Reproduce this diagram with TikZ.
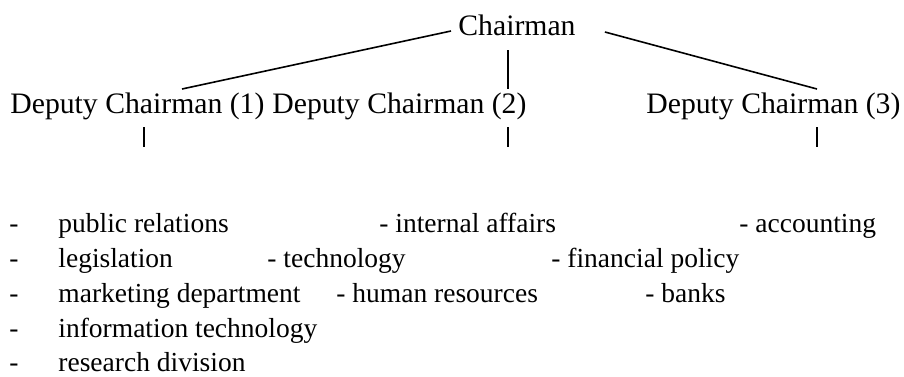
\documentclass[tikz,border=0pt]{standalone}
\usepackage{fontspec}
\setmainfont{Liberation Serif}
\usetikzlibrary{shapes,arrows}

\begin{document}
\begin{tikzpicture}[x=0.5pt, y=-0.5pt]
    % Define block styles
    \tikzstyle{head} = [inner sep=0pt, anchor=base west, font=\fontsize{14.85pt}{18pt}\selectfont]
    \tikzstyle{item} = [inner sep=0pt, anchor=base west, font=\fontsize{13.75pt}{16pt}\selectfont]
    \tikzstyle{line} = [draw, -, line width=0.8pt]

    \useasboundingbox (0,0) rectangle (904,376);

    % Nodes
    \node [head] (chairman) at (458,35) {Chairman};
    \node [head] (deputy 1) at (10,113) {Deputy Chairman (1)};
    \node [head] (deputy 2) at (272,113) {Deputy Chairman (2)};
    \node [head] (deputy 3) at (646,113) {Deputy Chairman (3)};

    % Tasks of deputy 1
    \node [item] (dash 1) at (9,232) {-};
    \node [item] (dash 2) at (9,267) {-};
    \node [item] (dash 3) at (9,302) {-};
    \node [item] (dash 4) at (9,337) {-};
    \node [item] (dash 5) at (9,371) {-};
    \node [item] (public relations) at (58,232) {public relations};
    \node [item] (legislation) at (58,267) {legislation};
    \node [item] (marketing) at (58,302) {marketing department};
    \node [item] (information) at (58,337) {information technology};
    \node [item] (research) at (58,371) {research division};

    % Tasks of deputy 2 and 3
    \node [item] (internal affairs) at (379,232) {- internal affairs};
    \node [item] (technology) at (267,267) {- technology};
    \node [item] (human resources) at (336,302) {- human resources};
    \node [item] (accounting) at (739,232) {- accounting};
    \node [item] (financial policy) at (551,267) {- financial policy};
    \node [item] (banks) at (645,302) {- banks};

    % Connecting lines
    \path [line] ([shift={(-7,-4)}]chairman.base west) -- ([shift={(172,-24)}]deputy 1.base west);
    \path [line] ([shift={(29,-3)}]chairman.base east) -- ([shift={(171,-24)}]deputy 3.base west);
    \path [line] ([shift={(50,15)}]chairman.base west) -- ([shift={(236,-24)}]deputy 2.base west);
    \path [line] ([shift={(134,14)}]deputy 1.base west) -- ++(0,20);
    \path [line] ([shift={(236,14)}]deputy 2.base west) -- ++(0,20);
    \path [line] ([shift={(171,14)}]deputy 3.base west) -- ++(0,20);
\end{tikzpicture}
\end{document}
